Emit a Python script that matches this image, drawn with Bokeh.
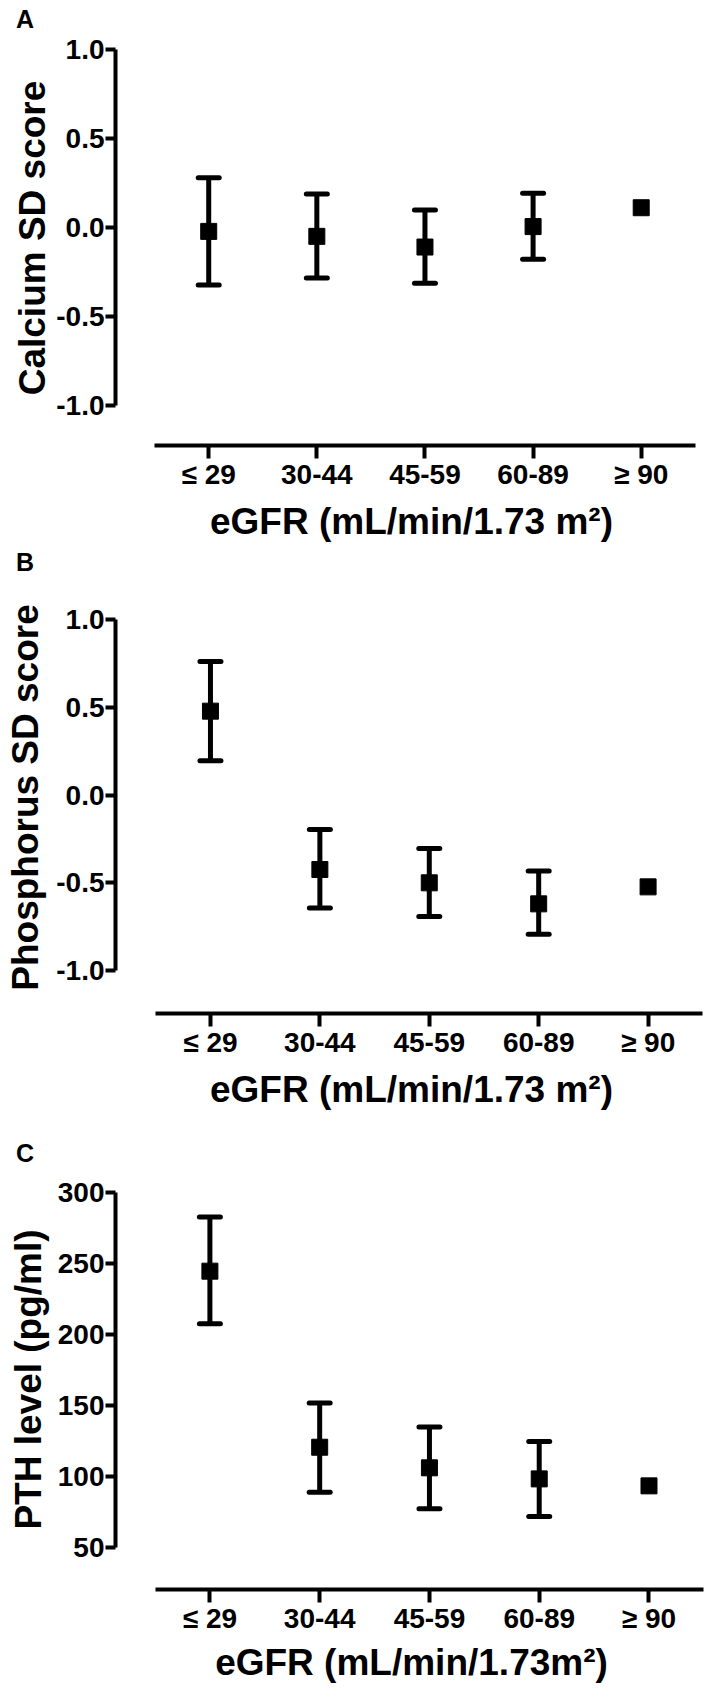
from bokeh.plotting import figure
from bokeh.models import ColumnDataSource, Whisker, TeeHead, FixedTicker, Range1d, Div
from bokeh.layouts import column
from bokeh.embed import file_html
from bokeh.resources import INLINE

# ---------------- data ----------------
categories = ["≤ 29", "30-44", "45-59", "60-89", "≥ 90"]

ca_mean = [-0.021, -0.049, -0.109, 0.006, 0.112]
ca_upper = [0.281, 0.189, 0.099, 0.193, None]
ca_lower = [-0.322, -0.283, -0.313, -0.178, None]

ph_mean = [0.479, -0.424, -0.500, -0.620, -0.523]
ph_upper = [0.762, -0.196, -0.304, -0.433, None]
ph_lower = [0.196, -0.644, -0.692, -0.793, None]

pth_mean = [244.4, 120.4, 105.9, 98.1, 93.2]
pth_upper = [282.6, 151.6, 134.7, 124.4, None]
pth_lower = [207.3, 88.7, 77.0, 71.6, None]

sd_ticks = [-1.0, -0.5, 0.0, 0.5, 1.0]
pth_ticks = [50, 100, 150, 200, 250, 300]

panel_letters = ["A", "B", "C"]
ca_ylabel = "Calcium SD score"
ph_ylabel = "Phosphorus SD score"
pth_ylabel = "PTH level (pg/ml)"
xlabel_ab = "eGFR (mL/min/1.73 m²)"
xlabel_c = "eGFR (mL/min/1.73m²)"

FONT = "Liberation Sans"
W = 707


def letter_div(letter, height, pad_top):
    html = (f'<span style="display:block; font: bold 25px \'{FONT}\', Arial, sans-serif; '
            f'line-height:25px; color:black; padding-left:16px; margin-top:{pad_top}px;">'
            f'{letter}</span>')
    return Div(text=html, width=W, height=height, margin=0)


def panel(height, x_rng, y_rng, y_bounds, y_ticks, y_fmt, means, uppers, lowers,
          ylabel, xlabel, min_left, min_bottom, ylab_standoff, xlab_standoff):
    p = figure(width=W, height=height, output_backend="svg", toolbar_location=None,
               x_range=Range1d(*x_rng), y_range=Range1d(*y_rng),
               min_border_left=min_left, min_border_top=0,
               min_border_bottom=min_bottom, min_border_right=0)
    p.outline_line_color = None
    p.grid.visible = False
    p.background_fill_color = "white"
    p.border_fill_color = "white"

    xs = list(range(len(categories)))
    # error bars (the last group has none)
    wx = [x for x, u in zip(xs, uppers) if u is not None]
    wu = [u for u in uppers if u is not None]
    wl = [l for l in lowers if l is not None]
    wsrc = ColumnDataSource(dict(x=wx, upper=wu, lower=wl))
    head = dict(size=21, line_width=5, line_color="black", line_cap="round")
    w = Whisker(base="x", upper="upper", lower="lower", source=wsrc,
                line_width=5, line_color="black",
                upper_head=TeeHead(**head), lower_head=TeeHead(**head))
    p.add_layout(w)
    p.scatter(xs, means, marker="square", size=16, color="black")

    for ax in (p.xaxis[0], p.yaxis[0]):
        ax.axis_line_width = 4
        ax.axis_line_color = "black"
        ax.major_tick_line_width = 4
        ax.major_tick_line_color = "black"
        ax.major_tick_in = 0
        ax.minor_tick_line_color = None
        ax.major_label_text_font = FONT
        ax.major_label_text_font_style = "bold"
        ax.major_label_text_font_size = "28px"
        ax.major_label_text_color = "black"
        ax.axis_label_text_font = FONT
        ax.axis_label_text_font_style = "bold"
        ax.axis_label_text_font_size = "37px"
        ax.axis_label_text_color = "black"

    xa = p.xaxis[0]
    xa.ticker = FixedTicker(ticks=xs, minor_ticks=[])
    xa.major_label_overrides = {i: c for i, c in enumerate(categories)}
    xa.bounds = (-0.5, 4.5)
    xa.major_tick_out = 13
    xa.major_label_standoff = 0
    xa.axis_label = xlabel
    xa.axis_label_standoff = xlab_standoff

    ya = p.yaxis[0]
    ya.ticker = FixedTicker(ticks=y_ticks, minor_ticks=[])
    ya.major_label_overrides = {t: y_fmt(t) for t in y_ticks}
    ya.bounds = y_bounds
    ya.major_tick_out = 10
    ya.major_label_standoff = 1
    ya.axis_label = ylabel
    ya.axis_label_standoff = ylab_standoff
    return p


fmt1 = lambda t: f"{t:.1f}"
fmt0 = lambda t: f"{int(t)}"

pA = panel(523, (-0.862, 4.613), (-1.2249, 1.1085), (-1.0, 1.0), sd_ticks, fmt1,
           ca_mean, ca_upper, ca_lower, ca_ylabel, xlabel_ab,
           108, 108, 0, 8)
pB = panel(559, (-0.868, 4.543), (-1.2452, 1.2184), (-1.0, 1.0), sd_ticks, fmt1,
           ph_mean, ph_upper, ph_lower, ph_ylabel, xlabel_ab,
           115, 127, 7, 8)
pC = panel(525, (-0.860, 4.533), (20.2, 316.0), (50, 300), pth_ticks, fmt0,
           pth_mean, pth_upper, pth_lower, pth_ylabel, xlabel_c,
           113, 105, 6, 5)

layout = column(letter_div(panel_letters[0], 30, 7), pA,
                letter_div(panel_letters[1], 28, -3), pB,
                letter_div(panel_letters[2], 29, 1), pC, spacing=0)
open("out.html", "w").write(file_html(layout, INLINE))
